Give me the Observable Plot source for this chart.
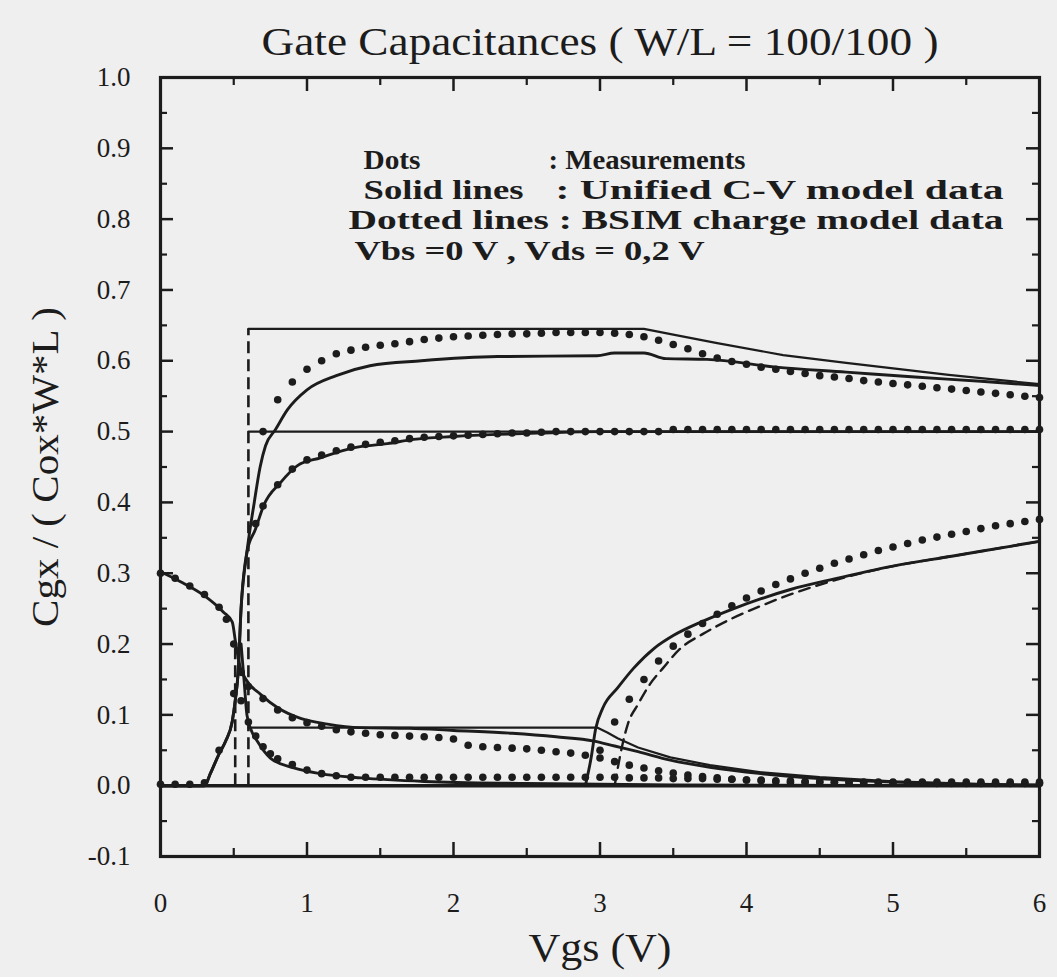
<!DOCTYPE html>
<html>
<head>
<meta charset="utf-8">
<script src="https://cdn.jsdelivr.net/npm/d3@7"></script>
<script src="https://cdn.jsdelivr.net/npm/@observablehq/plot@0.6"></script>
<style>
  html, body { margin: 0; padding: 0; background: #efefef; }
  #chart svg { display: block; }
</style>
</head>
<body>
<div id="chart"></div>
<script>
// ---- texts ----
const titleText = "Gate Capacitances ( W/L = 100/100 )";
const xLabel = "Vgs (V)";
const yLabel = "Cgx / ( Cox*W*L )";
const legendKeys = ["Dots", "Solid lines"];
const legendValues = [": Measurements", ": Unified C-V model data"];
const legendLines = ["Dotted lines : BSIM charge model data", "Vbs =0 V , Vds = 0,2 V"];

// ---- ticks ----
const xMajor = [0, 1, 2, 3, 4, 5, 6];
const xMinor = [0.5, 1.5, 2.5, 3.5, 4.5, 5.5];
const yMajor = [-0.1, 0, 0.1, 0.2, 0.3, 0.4, 0.5, 0.6, 0.7, 0.8, 0.9, 1.0];
const yMinor = [-0.05, 0.05, 0.15, 0.25, 0.35, 0.45, 0.55, 0.65, 0.75, 0.85, 0.95];

// ---- measurements (Vgs, C) ----
const cgsMeasured = [
  [0.0, 0.002], [0.1, 0.002], [0.2, 0.002], [0.3, 0.004], [0.4, 0.05], [0.5, 0.13],
  [0.7, 0.5], [0.8, 0.545], [0.9, 0.57], [1.0, 0.588], [1.1, 0.6], [1.2, 0.61], [1.3, 0.615],
  [1.4, 0.619], [1.5, 0.622], [1.6, 0.624], [1.7, 0.627], [1.8, 0.63], [1.9, 0.632], [2.0, 0.634],
  [2.1, 0.635], [2.2, 0.636], [2.3, 0.637], [2.4, 0.638], [2.5, 0.638], [2.6, 0.639], [2.7, 0.64],
  [2.8, 0.64], [2.9, 0.64], [3.0, 0.64], [3.1, 0.639], [3.2, 0.637], [3.3, 0.634], [3.4, 0.629],
  [3.5, 0.623], [3.6, 0.617], [3.7, 0.61], [3.8, 0.604], [3.9, 0.599], [4.0, 0.595], [4.1, 0.591],
  [4.2, 0.588], [4.3, 0.585], [4.4, 0.582], [4.5, 0.579], [4.6, 0.577], [4.7, 0.575], [4.8, 0.572],
  [4.9, 0.57], [5.0, 0.568], [5.1, 0.566], [5.2, 0.564], [5.3, 0.562], [5.4, 0.56], [5.5, 0.558],
  [5.6, 0.556], [5.7, 0.554], [5.8, 0.552], [5.9, 0.55], [6.0, 0.548]
];
const cgdMeasured = [
  [0.65, 0.37], [0.7, 0.395], [0.8, 0.425], [0.9, 0.447], [1.0, 0.46], [1.1, 0.467], [1.2, 0.473],
  [1.3, 0.478], [1.4, 0.482], [1.5, 0.485], [1.6, 0.487], [1.7, 0.49], [1.8, 0.492], [1.9, 0.493],
  [2.0, 0.494], [2.1, 0.495], [2.2, 0.496], [2.3, 0.497], [2.4, 0.498], [2.5, 0.498], [2.6, 0.499],
  [2.7, 0.5], [2.8, 0.5], [2.9, 0.5], [3.0, 0.5], [3.1, 0.5], [3.2, 0.5], [3.3, 0.5], [3.4, 0.5],
  [3.5, 0.503], [3.6, 0.503], [3.7, 0.503], [3.8, 0.503], [3.9, 0.503], [4.0, 0.503], [4.1, 0.503],
  [4.2, 0.503], [4.3, 0.503], [4.4, 0.503], [4.5, 0.503], [4.6, 0.503], [4.7, 0.503], [4.8, 0.503],
  [4.9, 0.503], [5.0, 0.503], [5.1, 0.503], [5.2, 0.503], [5.3, 0.503], [5.4, 0.503], [5.5, 0.503],
  [5.6, 0.503], [5.7, 0.503], [5.8, 0.503], [5.9, 0.503], [6.0, 0.503]
];
const cgbMeasured = [
  [0.0, 0.3], [0.1, 0.293], [0.2, 0.282], [0.3, 0.27], [0.4, 0.252], [0.45, 0.235], [0.5, 0.2],
  [0.55, 0.16], [0.6, 0.14], [0.7, 0.123], [0.8, 0.107], [0.9, 0.096], [1.0, 0.089], [1.1, 0.084],
  [1.2, 0.079], [1.3, 0.076], [1.4, 0.074], [1.5, 0.072], [1.6, 0.071], [1.7, 0.07], [1.8, 0.069],
  [1.9, 0.068], [2.0, 0.066], [2.1, 0.057], [2.2, 0.055], [2.3, 0.054], [2.4, 0.053], [2.5, 0.052],
  [2.6, 0.05], [2.7, 0.048], [2.8, 0.046], [2.9, 0.043], [3.0, 0.039], [3.1, 0.034], [3.2, 0.029],
  [3.3, 0.025], [3.4, 0.021], [3.5, 0.018], [3.6, 0.015], [3.7, 0.013], [3.8, 0.011], [3.9, 0.009],
  [4.0, 0.008], [4.1, 0.007], [4.2, 0.006], [4.3, 0.005], [4.4, 0.005], [4.5, 0.005], [4.6, 0.005],
  [4.7, 0.004], [4.8, 0.004], [4.9, 0.004], [5.0, 0.004], [5.1, 0.004], [5.2, 0.004], [5.3, 0.003],
  [5.4, 0.003], [5.5, 0.003], [5.6, 0.003], [5.7, 0.003], [5.8, 0.003], [5.9, 0.003], [6.0, 0.003]
];
const lowMeasured = [
  [0.55, 0.12], [0.6, 0.09], [0.65, 0.07], [0.7, 0.055], [0.75, 0.045], [0.8, 0.038], [0.9, 0.03],
  [1.0, 0.022], [1.1, 0.017], [1.2, 0.014], [1.3, 0.012], [1.4, 0.012], [1.5, 0.012], [1.6, 0.012],
  [1.7, 0.012], [1.8, 0.012], [1.9, 0.012], [2.0, 0.012], [2.1, 0.012], [2.2, 0.012], [2.3, 0.012],
  [2.4, 0.012], [2.5, 0.012], [2.6, 0.012], [2.7, 0.012], [2.8, 0.012], [2.9, 0.012], [3.0, 0.012],
  [3.1, 0.012], [3.2, 0.011], [3.3, 0.011], [3.4, 0.011], [3.5, 0.01], [3.6, 0.01], [3.7, 0.01],
  [3.8, 0.009], [3.9, 0.009], [4.0, 0.008], [4.1, 0.008], [4.2, 0.007], [4.3, 0.007], [4.4, 0.006],
  [4.5, 0.006], [4.6, 0.005], [4.7, 0.005], [4.8, 0.005], [4.9, 0.005], [5.0, 0.005], [5.1, 0.005],
  [5.2, 0.005], [5.3, 0.005], [5.4, 0.005], [5.5, 0.005], [5.6, 0.005], [5.7, 0.005], [5.8, 0.005],
  [5.9, 0.005], [6.0, 0.005]
];
const riseMeasured = [
  [3.0, 0.05], [3.1, 0.09], [3.2, 0.122], [3.3, 0.15], [3.4, 0.176], [3.5, 0.197], [3.6, 0.214],
  [3.7, 0.229], [3.8, 0.242], [3.9, 0.254], [4.0, 0.265], [4.1, 0.275], [4.2, 0.284], [4.3, 0.292],
  [4.4, 0.3], [4.5, 0.307], [4.6, 0.314], [4.7, 0.32], [4.8, 0.326], [4.9, 0.332], [5.0, 0.337],
  [5.1, 0.342], [5.2, 0.347], [5.3, 0.351], [5.4, 0.355], [5.5, 0.359], [5.6, 0.363], [5.7, 0.367],
  [5.8, 0.37], [5.9, 0.373], [6.0, 0.376]
];

// ---- unified C-V model (solid) ----
const unifiedCgs = [
  [0, 0], [0.3, 0], [0.34, 0.017], [0.4, 0.045], [0.445, 0.063], [0.49, 0.091], [0.51, 0.12],
  [0.53, 0.16], [0.55, 0.25], [0.59, 0.33], [0.64, 0.4], [0.68, 0.45], [0.717, 0.48], [0.785, 0.503],
  [0.867, 0.531], [1.0, 0.559], [1.2, 0.579], [1.43, 0.593], [1.78, 0.6], [2.3, 0.606], [2.98, 0.607],
  [3.1, 0.611], [3.3, 0.611], [3.45, 0.603], [3.73, 0.602], [4.2, 0.591], [4.68, 0.584],
  [5.15, 0.577], [5.6, 0.571], [6.0, 0.565]
];
const unifiedCgd = [
  [0, 0], [0.3, 0], [0.34, 0.017], [0.4, 0.045], [0.445, 0.063], [0.49, 0.091], [0.51, 0.12],
  [0.53, 0.16], [0.55, 0.25], [0.59, 0.33], [0.648, 0.362], [0.705, 0.396], [0.819, 0.428],
  [0.935, 0.452], [1.092, 0.463], [1.317, 0.477], [1.549, 0.483], [1.727, 0.489], [2.0, 0.493],
  [2.3, 0.496], [2.6, 0.498], [3.0, 0.5], [6.0, 0.5]
];
const unifiedCgb = [
  [0, 0.302], [0.137, 0.288], [0.294, 0.269], [0.43, 0.245], [0.49, 0.231], [0.512, 0.203],
  [0.546, 0.166], [0.58, 0.151], [0.683, 0.129], [0.8, 0.11], [0.956, 0.095], [1.14, 0.087],
  [1.365, 0.082], [1.7, 0.081], [2.0, 0.078], [2.4, 0.074], [2.7, 0.069], [2.96, 0.063],
  [3.1, 0.056], [3.26, 0.048], [3.48, 0.036], [3.75, 0.026], [4.1, 0.017], [4.5, 0.01],
  [5.0, 0.005], [5.5, 0.002], [6.0, 0.001]
];
const unifiedLow = [
  [0.55, 0.2], [0.57, 0.15], [0.59, 0.1], [0.62, 0.078], [0.66, 0.063], [0.75, 0.039],
  [0.91, 0.025], [1.09, 0.017], [1.37, 0.011], [1.8, 0.006], [2.5, 0.003], [3.5, 0.001], [6.0, 0]
];
const unifiedRise = [
  [2.9, 0], [2.94, 0.04], [2.97, 0.08], [3.02, 0.11], [3.12, 0.138], [3.23, 0.166], [3.37, 0.194],
  [3.5, 0.212], [3.7, 0.232], [3.9, 0.249], [4.1, 0.264], [4.3, 0.277], [4.6, 0.292], [5.0, 0.31],
  [5.4, 0.324], [5.8, 0.338], [6.0, 0.345]
];

// ---- BSIM charge model ----
const bsimCgs = [
  [0.6, 0.645], [3.3, 0.645], [3.5, 0.637], [3.8, 0.625], [4.25, 0.608], [4.68, 0.597],
  [5.38, 0.58], [6.0, 0.567]
];
const bsimCgd = [[0.6, 0.5], [6.0, 0.5]];
const bsimCgb = [
  [0.6, 0.082], [2.98, 0.082], [3.05, 0.075], [3.12, 0.067], [3.26, 0.054], [3.48, 0.04],
  [3.75, 0.029], [4.1, 0.019], [4.5, 0.012], [5.0, 0.006], [5.5, 0.003], [6.0, 0.001]
];
const bsimSteps = [
  {vgs: 0.6, from: 0, to: 0.645},
  {vgs: 0.51, from: 0, to: 0.2}
];
const bsimRise = [
  [3.1, 0], [3.15, 0.055], [3.19, 0.087], [3.26, 0.115], [3.34, 0.143], [3.43, 0.166],
  [3.55, 0.194], [3.7, 0.214], [3.9, 0.236], [4.1, 0.254], [4.3, 0.27], [4.6, 0.29],
  [5.0, 0.31], [5.4, 0.324], [5.8, 0.338], [6.0, 0.345]
];
const zeroLevel = [0];

// ---- drawing ----
const ink = "#1c1c1c";
const W = 1057, H = 977;
const M = {top: 77, right: 18, bottom: 121, left: 160};
const innerW = W - M.left - M.right;
const innerH = H - M.top - M.bottom;
const serif = "'Liberation Serif', 'Times New Roman', serif";

const vx = d => d[0], cy = d => d[1];
const solid = (data) => Plot.line(data, {x: vx, y: cy, stroke: ink, strokeWidth: 2.9, curve: "monotone-x"});
const thin = (data) => Plot.line(data, {x: vx, y: cy, stroke: ink, strokeWidth: 2.2});
const dots = (data) => Plot.dot(data, {x: vx, y: cy, r: 3.8, fill: ink, stroke: "none"});
const keyText = (s, dx, dy) => Plot.text([s], {
  text: d => d, frameAnchor: "top-left", textAnchor: "start", lineAnchor: "middle", dx, dy,
  fontSize: 28, fontWeight: "bold", fill: ink
});

const svg = Plot.plot({
  width: W, height: H,
  marginTop: M.top, marginRight: M.right, marginBottom: M.bottom, marginLeft: M.left,
  style: {background: "#efefef", fontFamily: serif, color: ink, overflow: "visible"},
  x: {domain: [0, 6]},
  y: {domain: [-0.1, 1.0]},
  marks: [
    // tick labels
    Plot.axisX(xMajor, {anchor: "bottom", tickSize: 0, tickPadding: 36, fontSize: 27, tickFormat: d => String(d), label: null}),
    Plot.axisY(yMajor, {anchor: "left", tickSize: 0, tickPadding: 30, fontSize: 27, tickFormat: d => d.toFixed(1), label: null}),
    // inward tick marks on all four sides
    Plot.tickX(xMajor, {x: d => d, stroke: ink, strokeWidth: 2.5, insetTop: innerH - 14}),
    Plot.tickX(xMinor, {x: d => d, stroke: ink, strokeWidth: 2.2, insetTop: innerH - 8}),
    Plot.tickX(xMajor, {x: d => d, stroke: ink, strokeWidth: 2.5, insetBottom: innerH - 14}),
    Plot.tickX(xMinor, {x: d => d, stroke: ink, strokeWidth: 2.2, insetBottom: innerH - 8}),
    Plot.tickY(yMajor, {y: d => d, stroke: ink, strokeWidth: 2.5, insetRight: innerW - 13}),
    Plot.tickY(yMinor, {y: d => d, stroke: ink, strokeWidth: 2.2, insetRight: innerW - 7}),
    Plot.tickY(yMajor, {y: d => d, stroke: ink, strokeWidth: 2.5, insetLeft: innerW - 13}),
    Plot.tickY(yMinor, {y: d => d, stroke: ink, strokeWidth: 2.2, insetLeft: innerW - 7}),
    Plot.frame({stroke: ink, strokeWidth: 3.2}),

    // zero baseline
    Plot.ruleY(zeroLevel, {y: d => d, stroke: ink, strokeWidth: 3.5}),

    // BSIM charge model
    thin(bsimCgs), thin(bsimCgd), thin(bsimCgb),
    Plot.ruleX(bsimSteps, {x: "vgs", y1: "from", y2: "to", stroke: ink, strokeWidth: 2.6, strokeDasharray: "12,6"}),
    Plot.line(bsimRise, {x: vx, y: cy, stroke: ink, strokeWidth: 2.4, strokeDasharray: "11,7", curve: "monotone-x"}),

    // unified C-V model
    solid(unifiedCgs), solid(unifiedCgd), solid(unifiedCgb), solid(unifiedLow), solid(unifiedRise),

    // measurements
    dots(cgsMeasured), dots(cgdMeasured), dots(cgbMeasured), dots(lowMeasured), dots(riseMeasured),

    // title and axis labels
    Plot.text([titleText], {text: d => d, frameAnchor: "top", lineAnchor: "middle", dy: -35, fontSize: 40, fill: ink}),
    Plot.text([xLabel], {text: d => d, frameAnchor: "bottom", lineAnchor: "middle", dy: 92, fontSize: 40, fill: ink}),
    Plot.text([yLabel], {text: d => d, frameAnchor: "left", textAnchor: "middle", lineAnchor: "middle", dx: -115, rotate: -90, fontSize: 38, fill: ink}),

    // key
    keyText(legendKeys[0], 203, 83),
    keyText(legendValues[0], 388, 83),
    keyText(legendKeys[1], 203, 113),
    keyText(legendValues[1], 395, 113),
    keyText(legendLines[0], 188, 143),
    keyText(legendLines[1], 194, 174)
  ]
});

// widen the lettering to the proportions of the printed figure
const spread = new Map([
  [titleText, 677], [xLabel, 143], [yLabel, 320],
  [legendKeys[0], 57], [legendValues[0], 197], [legendKeys[1], 160], [legendValues[1], 448],
  [legendLines[0], 655], [legendLines[1], 350]
]);
d3.select(svg).selectAll("text").each(function () {
  const len = spread.get(this.textContent);
  if (len) {
    this.setAttribute("textLength", len);
    this.setAttribute("lengthAdjust", "spacingAndGlyphs");
  }
});

document.getElementById("chart").append(svg);
</script>
</body>
</html>
